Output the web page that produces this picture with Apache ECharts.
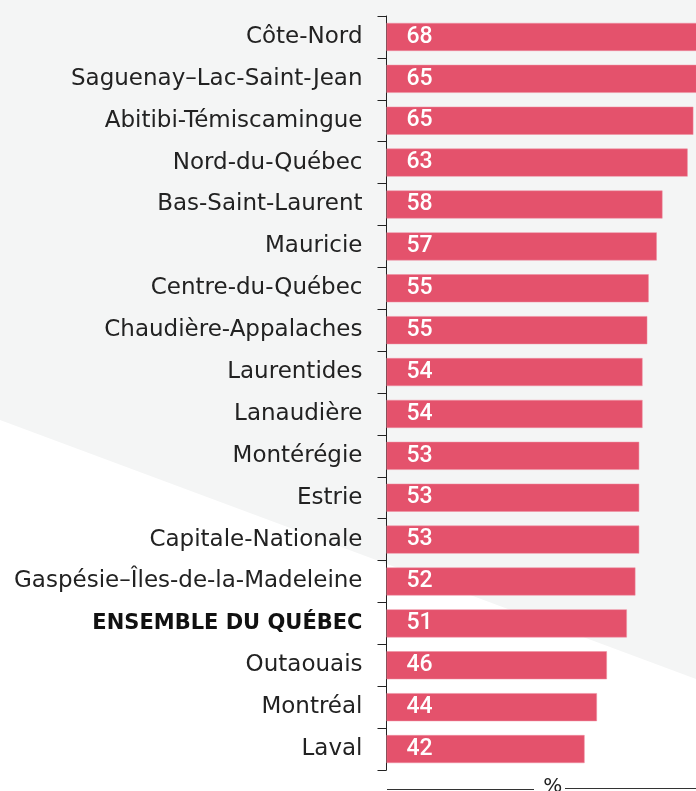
<!DOCTYPE html>
<html><head><meta charset="utf-8">
<style>html,body{margin:0;padding:0;background:#fff;}#c{width:696px;height:791px;}</style>
<script src="https://cdn.jsdelivr.net/npm/echarts@6/dist/echarts.min.js"></script>
</head><body><div id="c"></div>
<script>
const categories = [
  'Côte-Nord','Saguenay–Lac-Saint-Jean','Abitibi-Témiscamingue','Nord-du-Québec',
  'Bas-Saint-Laurent','Mauricie','Centre-du-Québec','Chaudière-Appalaches',
  'Laurentides','Lanaudière','Montérégie','Estrie','Capitale-Nationale',
  'Gaspésie–Îles-de-la-Madeleine','ENSEMBLE DU QUÉBEC','Outaouais','Montréal','Laval'
];
const values = [68.0, 65.3, 64.6, 63.4, 58.1, 56.9, 55.2, 54.9, 53.9, 53.9, 53.2, 53.2, 53.2, 52.4, 50.6, 46.4, 44.3, 41.7];
const shownLabels = [68, 65, 65, 63, 58, 57, 55, 55, 54, 54, 53, 53, 53, 52, 51, 46, 44, 42];
const axisName = '%';
const highlight = 'ENSEMBLE DU QUÉBEC';

const chart = echarts.init(document.getElementById('c'), null, {renderer: 'canvas'});
const W = 696, H = 791;
chart.setOption({
  animation: false,
  backgroundColor: '#ffffff',
  graphic: [
    {type: 'polygon', z: -100, silent: true,
     shape: {points: [[0,0],[W,0],[W,679],[0,420]]},
     style: {fill: '#f4f5f5'}},
    {type: 'line', z: 100, silent: true,
     shape: {x1: 387, y1: 789.5, x2: 534, y2: 789.5},
     style: {stroke: '#333', lineWidth: 1}},
    {type: 'line', z: 100, silent: true,
     shape: {x1: 565, y1: 788.5, x2: 696, y2: 788.5},
     style: {stroke: '#333', lineWidth: 1}}
  ],
  grid: {left: 386.5, top: 16, bottom: 21, right: -23, containLabel: false, outerBoundsMode: 'none'},
  xAxis: {
    type: 'value', min: 0, max: 70,
    name: axisName, nameLocation: 'middle', nameGap: 7,
    nameTextStyle: {color: '#222', fontFamily: 'DejaVu Sans', fontSize: 20, verticalAlign: 'top'},
    axisLine: {show: false}, axisTick: {show: false}, axisLabel: {show: false},
    splitLine: {show: false}
  },
  yAxis: {
    type: 'category', data: categories, inverse: true,
    axisLine: {show: true, lineStyle: {color: '#222', width: 1}},
    axisTick: {show: true, length: 9, lineStyle: {color: '#222', width: 1}},
    axisLabel: {
      margin: 24, color: '#222', fontFamily: 'DejaVu Sans', fontSize: 23,
      formatter: v => v === highlight ? '{b|' + v + '}' : v,
      rich: {b: {fontFamily: 'DejaVu Sans', fontWeight: 'bold', fontSize: 21, color: '#111'}}
    }
  },
  series: [{
    type: 'bar', data: values, barWidth: 28, z: 5,
    itemStyle: {color: '#e4526c', borderColor: '#ee8fa0', borderWidth: 0.5},
    label: {
      show: true, position: 'insideLeft', distance: 20,
      color: '#fff', fontFamily: 'Roboto', fontWeight: 500, fontSize: 23,
      formatter: p => String(shownLabels[p.dataIndex])
    }
  }]
});
</script></body></html>
